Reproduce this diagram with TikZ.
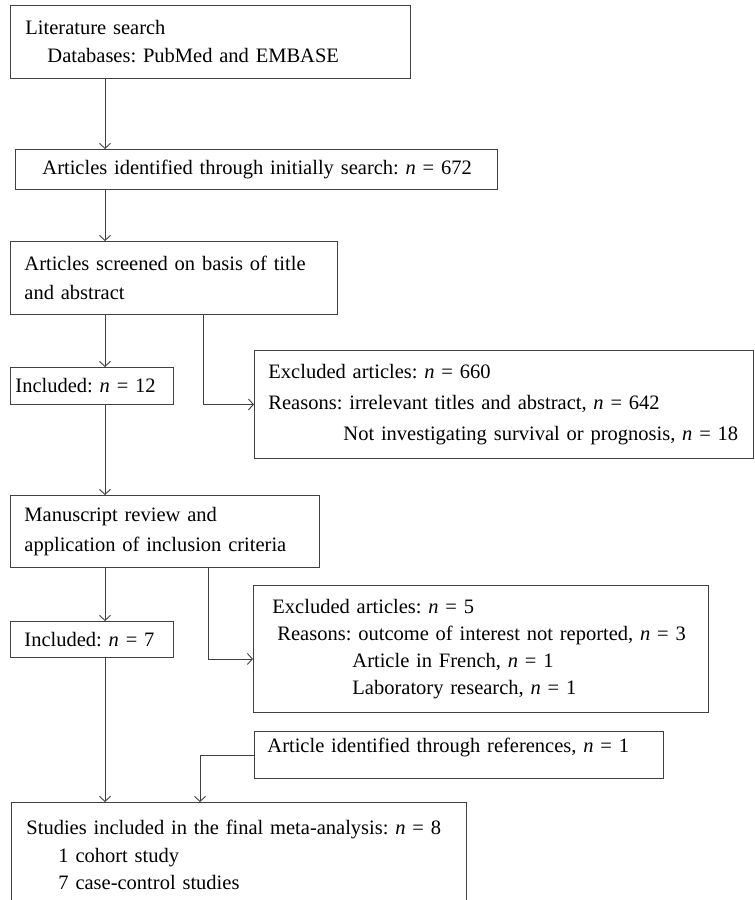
\documentclass[tikz,border=0pt]{standalone}
\usepackage{fontspec}
\setmainfont{Liberation Serif}
\usetikzlibrary{arrows.meta}
\tikzset{%
  mybox/.style={draw=black!75, line width=0.9pt, anchor=north west, align=left,
    inner xsep=3pt, inner ysep=0pt, font=\fontsize{20.5}{28}\selectfont\frenchspacing},
  myedge/.style={-{Straight Barb[length=5pt,width=11pt]}, draw=black!75, line width=0.9pt}
}

\begin{document}
\begin{tikzpicture}[x=1pt, y=-1pt]
\useasboundingbox (0,0) rectangle (755,900);
\clip (0,0) rectangle (755,900);

% columns of the connectors
\coordinate (trunk) at (105,0);
\coordinate (br1) at (203,0);
\coordinate (br2) at (208,0);
\coordinate (br3) at (200,0);

% boxes
\node [mybox, text width=394pt, minimum height=73pt] (search) at (10,5)
  {\hspace*{12pt}Literature search\\\hspace*{34pt}Databases: PubMed and EMBASE};
\node [mybox, text width=476pt, minimum height=40pt] (ident) at (15,149)
  {\hspace*{24pt}Articles identified through initially search: \textit{n} = 672};
\node [mybox, text width=321pt, minimum height=73pt,
       font=\fontsize{20.5}{29}\selectfont\frenchspacing] (screen) at (10,241)
  {\hspace*{11pt}Articles screened on basis of title\\\hspace*{11pt}and abstract};
\node [mybox, text width=157pt, minimum height=37pt] (incA) at (10,367)
  {\hspace*{2pt}Included: \textit{n} = 12};
\node [mybox, text width=493pt, minimum height=108pt,
       font=\fontsize{20.5}{31}\selectfont\frenchspacing] (exclA) at (254,350)
  {\hspace*{11pt}Excluded articles: \textit{n} = 660\\
   \hspace*{11pt}Reasons: irrelevant titles and abstract, \textit{n} = 642\\
   \hspace*{86pt}Not investigating survival or prognosis, \textit{n} = 18};
\node [mybox, text width=303pt, minimum height=72pt,
       font=\fontsize{20.5}{30}\selectfont\frenchspacing] (manu) at (10,495)
  {\hspace*{11pt}Manuscript review and\\\hspace*{11pt}application of inclusion criteria};
\node [mybox, text width=157pt, minimum height=36pt] (incB) at (10,621)
  {\hspace*{11pt}Included: \textit{n} = 7};
\node [mybox, text width=449pt, minimum height=127pt,
       font=\fontsize{20.5}{27}\selectfont\frenchspacing] (exclB) at (253,585)
  {\hspace*{16pt}Excluded articles: \textit{n} = 5\\
   \hspace*{21pt}Reasons: outcome of interest not reported, \textit{n} = 3\\
   \hspace*{96pt}Article in French, \textit{n} = 1\\
   \hspace*{96pt}Laboratory research, \textit{n} = 1};
\node [mybox, inner ysep=4pt, text width=403pt,
       text height=17pt, text depth=22pt] (refs) at (254,731)
  {\hspace*{10pt}Article identified through references, \textit{n} = 1};
\node [mybox, text width=449pt, minimum height=105pt,
       font=\fontsize{20.5}{27.5}\selectfont\frenchspacing] (final) at (11,802)
  {\hspace*{12pt}Studies included in the final meta-analysis: \textit{n} = 8\\
   \hspace*{44pt}1 cohort study\\
   \hspace*{44pt}7 case-control studies};

% connectors
\draw [myedge] (search.south -| trunk) -- (ident.north -| trunk);
\draw [myedge] (ident.south -| trunk) -- (screen.north -| trunk);
\draw [myedge] (screen.south -| trunk) -- (incA.north -| trunk);
\draw [myedge] (screen.south -| br1) |- (exclA.west);
\draw [myedge] (incA.south -| trunk) -- (manu.north -| trunk);
\draw [myedge] (manu.south -| trunk) -- (incB.north -| trunk);
\draw [myedge] (manu.south -| br2) |- ([yshift=-10pt]exclB.west);
\draw [myedge] (incB.south -| trunk) -- (final.north -| trunk);
\draw [myedge] (refs.west) -| (final.north -| br3);
\end{tikzpicture}
\end{document}
